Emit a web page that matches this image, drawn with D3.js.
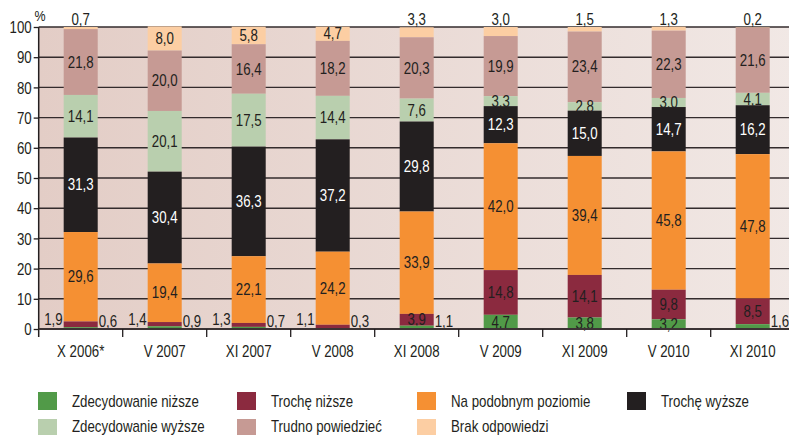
<!DOCTYPE html>
<html>
<head>
<meta charset="utf-8">
<script src="https://cdn.jsdelivr.net/npm/d3@7"></script>
<style>
  html, body { margin: 0; padding: 0; background: #ffffff; }
  svg { display: block; }
  text { font-family: "Liberation Sans", Arial, sans-serif; fill: #231f20; }
</style>
</head>
<body>
<svg id="chart" width="789" height="435"></svg>
<script>
const categories = ["X 2006*", "V 2007", "XI 2007", "V 2008", "XI 2008", "V 2009", "XI 2009", "V 2010", "XI 2010"];
const seriesNames = ["Zdecydowanie niższe", "Trochę niższe", "Na podobnym poziomie", "Trochę wyższe", "Zdecydowanie wyższe", "Trudno powiedzieć", "Brak odpowiedzi"];
const zdecydowanieNizsze = [0.6, 0.9, 0.7, 0.3, 1.1, 4.7, 3.8, 3.2, 1.6];
const trocheNizsze       = [1.9, 1.4, 1.3, 1.1, 3.9, 14.8, 14.1, 9.8, 8.5];
const naPodobnym         = [29.6, 19.4, 22.1, 24.2, 33.9, 42.0, 39.4, 45.8, 47.8];
const trocheWyzsze       = [31.3, 30.4, 36.3, 37.2, 29.8, 12.3, 15.0, 14.7, 16.2];
const zdecydowanieWyzsze = [14.1, 20.1, 17.5, 14.4, 7.6, 3.3, 2.8, 3.0, 4.1];
const trudnoPowiedziec   = [21.8, 20.0, 16.4, 18.2, 20.3, 19.9, 23.4, 22.3, 21.6];
const brakOdpowiedzi     = [0.7, 8.0, 5.8, 4.7, 3.3, 3.0, 1.5, 1.3, 0.2];
const yTicks = [0, 10, 20, 30, 40, 50, 60, 70, 80, 90, 100];
const colors = ["#519a48", "#8b2a3f", "#f59033", "#231f20", "#b9cfae", "#c69a94", "#fccea3"];
const labelColors = ["#231f20", "#231f20", "#231f20", "#ffffff", "#231f20", "#231f20", "#231f20"];

const seriesValues = [zdecydowanieNizsze, trocheNizsze, naPodobnym, trocheWyzsze, zdecydowanieWyzsze, trudnoPowiedziec, brakOdpowiedzi];
const rows = categories.map((c, i) => {
  const r = { cat: c };
  seriesNames.forEach((s, k) => r[s] = seriesValues[k][i]);
  return r;
});
const stacked = d3.stack().keys(seriesNames)(rows);

const svg = d3.select("#chart");
const pLeft = 38.7, pRight = 794.7, pTop = 27, pBottom = 329;
const SX = 0.83; // horizontal condensing of text

const x = d3.scaleBand().domain(categories).range([pLeft, pRight]).paddingInner(0.595).paddingOuter(0.2975);
const y = d3.scaleLinear().domain([0, 100]).range([pBottom, pTop]);
const fmt = v => d3.format(".1f")(v).replace(".", ",");
const place = (sel, px, py) => sel.attr("x", 0).attr("y", 0).attr("transform", `translate(${px},${py}) scale(${SX},1)`);

// background gradient
const defs = svg.append("defs");
const grad = defs.append("linearGradient").attr("id", "bg").attr("x1", "0%").attr("x2", "100%");
grad.append("stop").attr("offset", "0%").attr("stop-color", "#e3cdc6");
grad.append("stop").attr("offset", "100%").attr("stop-color", "#f1e8e5");
svg.append("rect").attr("x", pLeft).attr("y", y(100)).attr("width", pRight - pLeft).attr("height", y(0) - y(100)).attr("fill", "url(#bg)");

// gridlines
svg.append("g").selectAll("line").data(yTicks.filter(t => t > 0)).join("line")
  .attr("x1", pLeft).attr("x2", pRight).attr("y1", d => y(d)).attr("y2", d => y(d))
  .attr("stroke", "#332b2c").attr("stroke-width", 1.4);

// bars drawn from top series down
const barsG = svg.append("g");
for (let k = stacked.length - 1; k >= 0; k--) {
  const layer = stacked[k];
  const g = barsG.append("g");
  g.selectAll("rect").data(layer).join("rect")
    .attr("x", d => x(d.data.cat))
    .attr("width", x.bandwidth())
    .attr("y", d => y(d[1]))
    .attr("height", d => y(d[0]) - y(d[1]))
    .attr("fill", colors[k]);
  g.selectAll("text").data(layer).join("text")
    .attr("font-size", 16)
    .attr("dy", "0.35em")
    .style("fill", labelColors[k])
    .each(function(d) {
      const v = d[1] - d[0];
      const t = d3.select(this).text(fmt(v));
      const cx = x(d.data.cat) + x.bandwidth() / 2;
      if (k === 1 && v < 2) {
        place(t, x(d.data.cat) - 1, y(0) - 10).attr("text-anchor", "end");
      } else if (k === 0 && v < 2) {
        place(t, x(d.data.cat) + x.bandwidth() + 1, y(0) - 8).attr("text-anchor", "start");
      } else if (k === 6 && v < 4) {
        place(t, cx, y(100) - 8).attr("text-anchor", "middle");
      } else {
        place(t, cx, (y(d[0]) + y(d[1])) / 2).attr("text-anchor", "middle");
      }
    });
}

// axes
const yAxis = svg.append("g").attr("transform", `translate(${pLeft},0)`)
  .call(d3.axisLeft(y).tickValues(yTicks).tickSize(5).tickPadding(2));
yAxis.attr("font-family", null).attr("font-size", null);
yAxis.select(".domain").remove();
yAxis.selectAll(".tick line").attr("stroke", "#231f20").attr("stroke-width", 1.3);
yAxis.selectAll(".tick text").attr("font-size", 16).attr("dy", "0.35em")
  .attr("x", -7 / SX).attr("transform", `scale(${SX},1)`);
svg.append("line").attr("x1", pLeft).attr("x2", pLeft).attr("y1", y(100)).attr("y2", pBottom + 8)
  .attr("stroke", "#231f20").attr("stroke-width", 1.5);

svg.append("line").attr("x1", pLeft).attr("x2", pRight).attr("y1", pBottom).attr("y2", pBottom)
  .attr("stroke", "#3b3334").attr("stroke-width", 2);
const bounds = categories.map(c => x(c) - x.step() * 0.2975);
svg.append("g").selectAll("line").data(bounds.slice(1)).join("line")
  .attr("x1", d => d).attr("x2", d => d).attr("y1", pBottom).attr("y2", pBottom + 8)
  .attr("stroke", "#231f20").attr("stroke-width", 1.3);
svg.append("g").selectAll("text").data(categories).join("text")
  .attr("dy", "0.35em").attr("text-anchor", "middle").attr("font-size", 16).text(d => d)
  .each(function(d) { place(d3.select(this), x(d) + x.bandwidth() / 2, 351); });

place(svg.append("text").attr("dy", "0.35em").attr("text-anchor", "middle").attr("font-size", 15).text("%"), 40, 16);

// legend
const legX = [38, 237, 417, 627];
const legend = svg.append("g");
seriesNames.forEach((s, i) => {
  const col = i % 4, row = Math.floor(i / 4);
  const ly = row === 0 ? 392 : 419;
  legend.append("rect").attr("x", legX[col]).attr("y", ly).attr("width", 19).attr("height", 18).attr("fill", colors[i]);
  place(legend.append("text").attr("dy", "0.35em").attr("font-size", 16).text(s), legX[col] + 34, row === 0 ? 401.5 : 426.5);
});
</script>
</body>
</html>
